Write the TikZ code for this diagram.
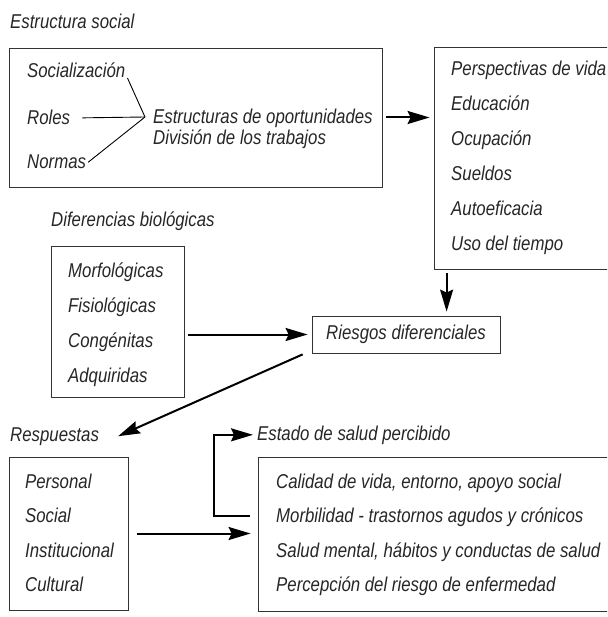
\documentclass[tikz,border=0pt]{standalone}
\usepackage{fontspec}
\setmainfont{Liberation Sans}[FakeStretch=0.84]
\usepackage{tikz}
\usetikzlibrary{arrows.meta, positioning}
\tikzset{>=Stealth}
\tikzset{
  caja/.style={draw=black!80, line width=0.8pt, inner sep=0pt},
  texto/.style={anchor=base west, inner sep=0pt, text=black!85, font=\fontsize{20}{24}\selectfont\itshape},
  flecha/.style={-{Stealth[length=22pt,width=13pt,inset=3pt]}, line width=2pt}
}

\begin{document}
\begin{tikzpicture}[x=1pt, y=-1pt]
        \clip (0,0) rectangle (607,617);

        \node[caja, minimum width=373pt, minimum height=139pt] (social) at (195.5,117.5) {};
        \node[caja, minimum width=176pt, minimum height=222pt] (persp) at (522,158) {};
        \node[caja, minimum width=188pt, minimum height=37pt, text=black!85, font=\fontsize{20}{24}\selectfont\itshape] (riesgos) at (406,334.5) {Riesgos diferenciales};
        \node[caja, minimum width=133pt, minimum height=151pt] (bio) at (117.5,321.5) {};
        \node[caja, minimum width=119pt, minimum height=153pt] (resp) at (68.5,533.5) {};
        \node[caja, minimum width=352pt, minimum height=154pt] (salud) at (434,534) {};

        \node[texto] (lsocial) at (10,29) {Estructura social};
        \node[texto] (nsoc) at (27,78) {Socialización};
        \node[texto] (nroles) at (27,125) {Roles};
        \node[texto] (nnormas) at (27,169) {Normas};
        \node[texto] (nestr) at (153,124) {Estructuras de oportunidades};
        \node[texto] (ndiv) at (153,145) {División de los trabajos};
        \coordinate (junta) at (145,117);
        \draw[line width=0.9pt] ([xshift=2pt]nsoc.base east) -- (junta);
        \draw[line width=0.9pt] ([xshift=12pt]nroles.east) -- (junta);
        \draw[line width=0.9pt] ([xshift=2pt]nnormas.east) -- (junta);

        \node[texto] (p1) at (451,76) {Perspectivas de vida};
        \node[texto] (p2) at (451,111) {Educación};
        \node[texto] (p3) at (451,146) {Ocupación};
        \node[texto] (p4) at (451,181) {Sueldos};
        \node[texto] (p5) at (451,216) {Autoeficacia};
        \node[texto] (p6) at (451,251) {Uso del tiempo};

        \node[texto] (lbio) at (51,227) {Diferencias biológicas};
        \node[texto] (b1) at (68,277) {Morfológicas};
        \node[texto] (b2) at (68,312) {Fisiológicas};
        \node[texto] (b3) at (68,347) {Congénitas};
        \node[texto] (b4) at (68,382) {Adquiridas};

        \node[texto] (lresp) at (10,441) {Respuestas};
        \node[texto] (r1) at (25,488) {Personal};
        \node[texto] (r2) at (25,522) {Social};
        \node[texto] (r3) at (25,557) {Institucional};
        \node[texto] (r4) at (25,591) {Cultural};

        \node[texto] (lestado) at (257,440) {Estado de salud percibido};
        \node[texto] (s1) at (276,488) {Calidad de vida, entorno, apoyo social};
        \node[texto] (s2) at (276,522) {Morbilidad - trastornos agudos y crónicos};
        \node[texto] (s3) at (276,557) {Salud mental, hábitos y conductas de salud};
        \node[texto] (s4) at (276,591) {Percepción del riesgo de enfermedad};

        \draw[flecha, shorten <=4pt, shorten >=4pt] (social.east) -- (social.east -| persp.west);
        \draw[flecha, shorten <=4pt, shorten >=4pt] ([xshift=13pt]persp.south west) -- ([xshift=13pt]persp.south west |- riesgos.north);
        \draw[flecha, shorten <=4pt, shorten >=4pt] (bio.east |- riesgos.west) -- (riesgos.west);
        \draw[flecha] ([xshift=-9pt,yshift=-1pt]riesgos.south west) -- ([xshift=19pt]lresp.east);
        \draw[flecha, shorten <=9pt, shorten >=7pt] (resp.east) -- (resp.east -| salud.west);
        \draw[flecha, shorten >=4pt] ([xshift=-8pt,yshift=18pt]salud.west) -- ++(-36,0) |- (lestado.west);
\end{tikzpicture}
\end{document}
